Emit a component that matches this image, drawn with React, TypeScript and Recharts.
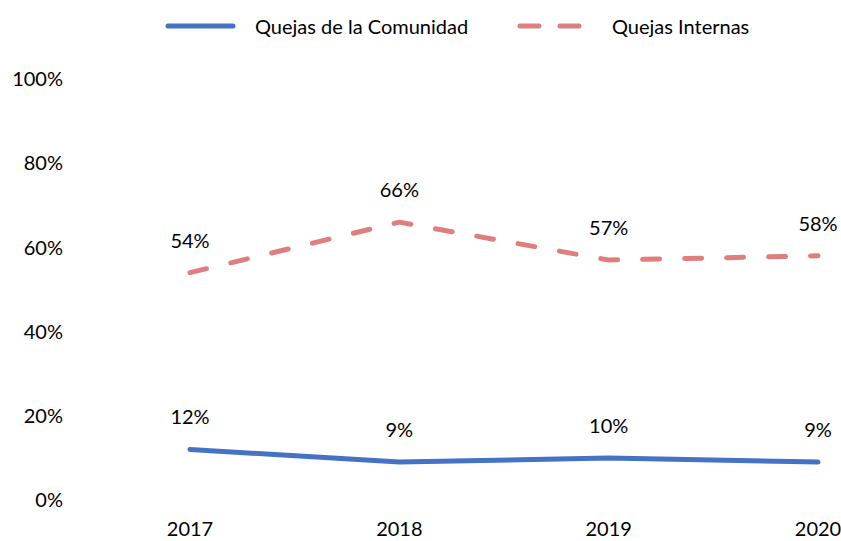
import React from "react";
import { LineChart, Line, XAxis, YAxis, Legend, LabelList } from "recharts";

const years = ["2017", "2018", "2019", "2020"];
const comunidad = [12, 9, 10, 9];
const internas = [54, 66, 57, 58];
const yTicks = [0, 20, 40, 60, 80, 100];

const BLUE = "#4472C4";
const RED = "#E07E7E";
const FONT = "Lato, 'Noto Sans', sans-serif";

const data = years.map((year, i) => ({
  year,
  comunidad: comunidad[i],
  internas: internas[i],
}));

function ChartLegend() {
  const text: React.CSSProperties = {
    position: "absolute",
    top: 0,
    height: 36,
    lineHeight: "36px",
    fontSize: 20,
    color: "#000",
    fontFamily: FONT,
    whiteSpace: "nowrap",
  };
  return (
    <div style={{ position: "relative", width: 841, height: 71 }}>
      <svg width={841} height={36} style={{ position: "absolute", left: 0, top: 0 }}>
        <line x1={168} x2={233} y1={18} y2={18} stroke={BLUE} strokeWidth={5} strokeLinecap="round" />
        <line
          x1={520}
          x2={582}
          y1={18}
          y2={18}
          stroke={RED}
          strokeWidth={5}
          strokeLinecap="round"
          strokeDasharray="19 21"
        />
      </svg>
      <span style={{ ...text, left: 255 }}>Quejas de la Comunidad</span>
      <span style={{ ...text, left: 612 }}>Quejas Internas</span>
    </div>
  );
}

export default function App() {
  const tick = { fill: "#000", fontSize: 20, fontFamily: FONT };
  const label = { fill: "#000", fontSize: 20, fontFamily: FONT };
  return (
    <div style={{ position: "fixed", left: 0, top: 0, background: "#fff" }}>
      <LineChart
        width={841}
        height={541}
        data={data}
        margin={{ top: 8, right: 23, left: 0, bottom: 0 }}
      >
        <Legend
          verticalAlign="top"
          align="left"
          content={<ChartLegend />}
          wrapperStyle={{ left: 0, top: 8, width: 841, height: 71 }}
        />
        <XAxis
          dataKey="year"
          axisLine={false}
          tickLine={false}
          tick={tick}
          tickMargin={16}
          height={41}
          padding={{ left: 119, right: 0 }}
        />
        <YAxis
          domain={[0, 100]}
          ticks={yTicks}
          axisLine={false}
          tickLine={false}
          tick={tick}
          width={71}
          tickFormatter={(v) => `${v}%`}
        />
        <Line
          type="linear"
          dataKey="comunidad"
          stroke={BLUE}
          strokeWidth={5}
          strokeLinecap="round"
          strokeLinejoin="round"
          dot={false}
          activeDot={false}
          isAnimationActive={false}
        >
          <LabelList dataKey="comunidad" position="top" offset={25} style={label} formatter={(v: number) => `${v}%`} />
        </Line>
        <Line
          type="linear"
          dataKey="internas"
          stroke={RED}
          strokeWidth={5}
          strokeLinecap="round"
          strokeLinejoin="round"
          strokeDasharray="17 25"
          dot={false}
          activeDot={false}
          isAnimationActive={false}
        >
          <LabelList dataKey="internas" position="top" offset={25} style={label} formatter={(v: number) => `${v}%`} />
        </Line>
      </LineChart>
    </div>
  );
}
